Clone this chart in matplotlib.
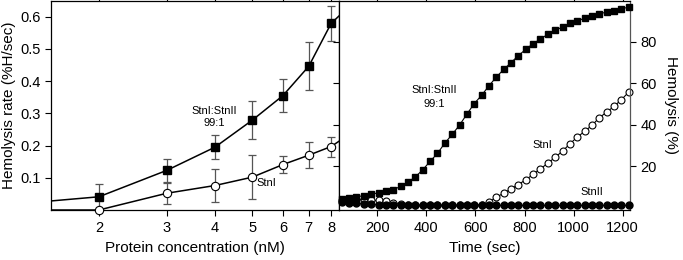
import matplotlib
matplotlib.use("Agg")
import matplotlib.pyplot as plt
from matplotlib.ticker import FixedLocator, FixedFormatter, NullLocator

plt.rcParams['font.family'] = ['Liberation Sans', 'DejaVu Sans']

# ---- Left panel data ----
conc = [2, 3, 4, 5, 6, 7, 8]
mix_rate = [0.041, 0.123, 0.195, 0.279, 0.355, 0.446, 0.579]
mix_err = [0.040, 0.035, 0.037, 0.060, 0.050, 0.074, 0.054]
stni_rate = [0.0, 0.052, 0.076, 0.102, 0.141, 0.170, 0.197]
stni_err = [0.0, 0.033, 0.051, 0.068, 0.027, 0.041, 0.031]
# fitted curves (extended to panel edges)
fit_x = [1.5, 2, 3, 4, 5, 6, 7, 8, 8.4]
mix_fit = [0.028, 0.041, 0.123, 0.195, 0.279, 0.355, 0.446, 0.579, 0.603]
stni_fit = [0.0, 0.0, 0.052, 0.076, 0.102, 0.141, 0.170, 0.197, 0.214]
conc_ticks = [2, 3, 4, 5, 6, 7, 8]
rate_ticks = [0.1, 0.2, 0.3, 0.4, 0.5, 0.6]

# ---- Right panel data ----
time = [55, 85, 115, 145, 175, 205, 235, 265, 295, 325,
        355, 385, 415, 445, 475, 505, 535, 565, 595, 625,
        655, 685, 715, 745, 775, 805, 835, 865, 895, 925,
        955, 985, 1015, 1045, 1075, 1105, 1135, 1165, 1195, 1225]
mix_hem = [3.9, 4.7, 5.2, 5.7, 6.3, 7.2, 8.2, 8.5, 10.3, 12.3,
           14.8, 18.2, 22.3, 26.1, 31.1, 35.3, 39.8, 45.1, 50.2, 54.2,
           58.8, 63.0, 66.7, 70.0, 73.4, 76.4, 79.2, 81.4, 83.7, 85.6,
           87.2, 88.9, 90.2, 91.4, 92.4, 93.6, 94.4, 95.1, 96.0, 96.8]
stni_hem = [3.4, 3.4, 3.6, 3.9, 3.4, 3.4, 3.1, 2.4, 1.8, 1.4,
            1.1, 1.0, 1.0, 1.0, 1.0, 1.0, 1.0, 1.0, 1.1, 1.4,
            2.6, 5.0, 6.9, 9.0, 11.1, 13.4, 16.0, 18.7, 21.4, 24.3,
            27.2, 30.8, 34.0, 36.8, 39.7, 43.4, 46.1, 48.9, 52.1, 55.8]
stnii_hem = [2.6, 2.2, 2.0, 1.8, 1.6, 1.4, 1.2, 1.1, 1.0, 1.0,
             1.0, 1.0, 1.0, 1.0, 1.0, 1.0, 1.0, 1.0, 1.0, 1.0,
             1.0, 1.0, 1.0, 1.0, 1.0, 1.0, 1.0, 1.0, 1.0, 1.0,
             1.0, 1.0, 1.0, 1.0, 1.0, 1.0, 1.0, 1.0, 1.0, 1.0]
time_ticks = [200, 400, 600, 800, 1000, 1200]
hem_ticks = [20, 40, 60, 80]

fig = plt.figure(figsize=(6.83, 2.6), dpi=100)
axL = fig.add_axes([0.0742, 0.1923, 0.4226, 0.8057])
axR = fig.add_axes([0.4968, 0.1923, 0.4256, 0.8057])

gray = '#555555'
ann = 8

# Left panel
axL.set_xscale('log')
axL.plot(fit_x, mix_fit, color='black', lw=1.1, zorder=2)
axL.plot(fit_x, stni_fit, color='black', lw=1.1, zorder=2)
axL.errorbar(conc, mix_rate, yerr=mix_err, fmt='none', ecolor=gray, elinewidth=0.9,
             capsize=3, capthick=0.9, zorder=1)
axL.errorbar(conc[1:], stni_rate[1:], yerr=stni_err[1:], fmt='none', ecolor=gray,
             elinewidth=0.9, capsize=3, capthick=0.9, zorder=1)
axL.plot(conc, mix_rate, 's', color='black', ms=6, zorder=3, clip_on=False)
axL.plot(conc, stni_rate, 'o', mfc='white', mec='black', mew=0.8, ms=6, zorder=3, clip_on=False)
axL.set_xlim(1.5, 8.4)
axL.set_ylim(0, 0.65)
axL.xaxis.set_major_locator(FixedLocator(conc_ticks))
axL.xaxis.set_major_formatter(FixedFormatter([str(c) for c in conc_ticks]))
axL.xaxis.set_minor_locator(NullLocator())
axL.set_yticks(rate_ticks)
axL.set_yticklabels([f'{v:.1f}' for v in rate_ticks])
axL.tick_params(axis='both', which='major', labelsize=10.5, direction='out', length=4, width=0.8)
axL.tick_params(axis='x', top=True, pad=4)
axL.set_xlabel('Protein concentration (nM)', fontsize=11, labelpad=4)
axL.set_ylabel('Hemolysis rate (%H/sec)', fontsize=11, labelpad=3)
axL.text(3.98, 0.308, 'StnI:StnII', fontsize=ann, ha='center', va='center')
axL.text(3.98, 0.270, '99:1', fontsize=ann, ha='center', va='center')
axL.text(5.43, 0.0835, 'StnI', fontsize=ann, ha='center', va='center')
for s in axL.spines.values():
    s.set_linewidth(0.9)

# Right panel
axR.plot(time, stni_hem, '-o', color='black', lw=0.8, mfc='white', mec='black', mew=0.8,
         ms=5, zorder=2, clip_on=False)
axR.plot(time, stnii_hem, '-o', color='black', lw=0.8, ms=5, zorder=3, clip_on=False)
axR.plot(time, mix_hem, '-s', color='black', lw=0.8, ms=4.5, zorder=4, clip_on=False)
axR.set_xlim(45, 1230)
axR.set_ylim(-1.2, 100)
axR.set_xticks(time_ticks)
axR.set_yticks(hem_ticks)
axR.yaxis.tick_right()
axR.yaxis.set_label_position('right')
axR.tick_params(axis='both', labelsize=10.5, direction='out', length=4, width=0.8)
axR.tick_params(axis='x', top=True, pad=4)
axR.tick_params(axis='y', left=True, right=True)
axR.set_xlabel('Time (sec)', fontsize=11, labelpad=4)
axR.set_ylabel('Hemolysis (%)', fontsize=11, rotation=270, labelpad=15)
axR.text(431, 57.0, 'StnI:StnII', fontsize=ann, ha='center', va='center')
axR.text(431, 50.0, '99:1', fontsize=ann, ha='center', va='center')
axR.text(873, 30.0, 'StnI', fontsize=ann, ha='center', va='center')
axR.text(1075, 7.4, 'StnII', fontsize=ann, ha='center', va='center')
for s in axR.spines.values():
    s.set_linewidth(0.9)
axR.spines['right'].set_color(gray)

fig.savefig('out.png', dpi=100)
